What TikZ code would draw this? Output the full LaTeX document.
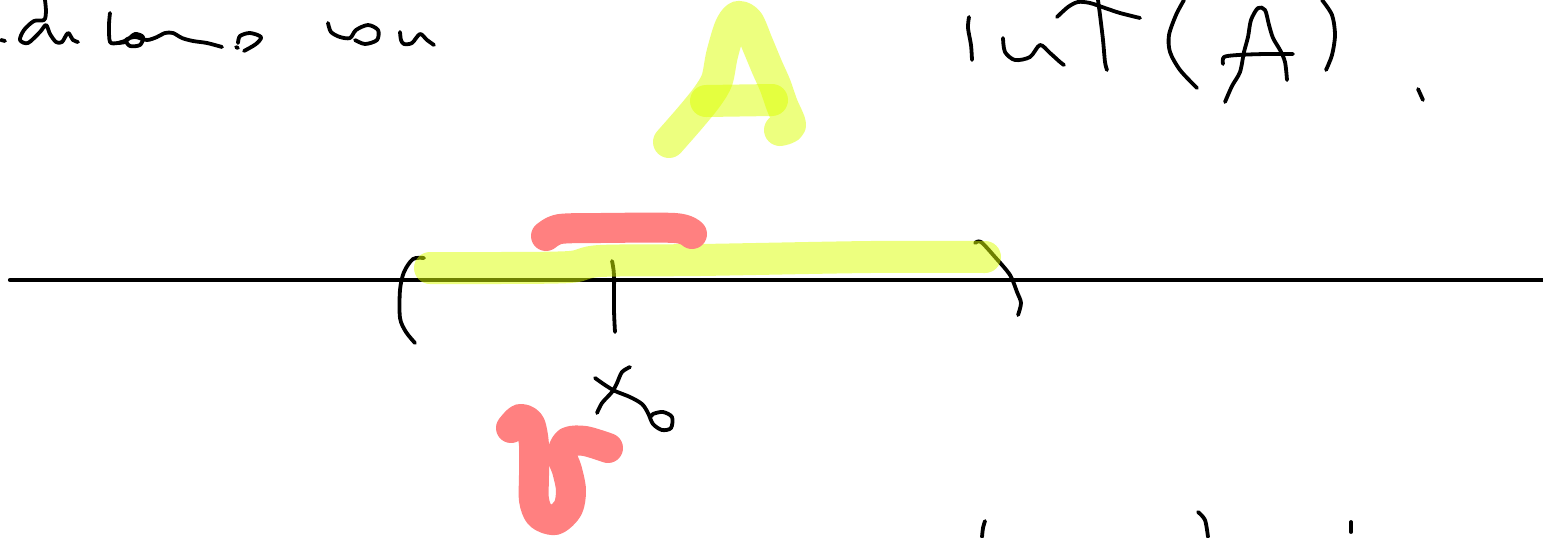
\documentclass[tikz,border=0pt]{standalone}
\definecolor{hly}{RGB}{221,255,0}
\definecolor{hlr}{RGB}{255,128,128}
\tikzset{
  ink/.style={line width=1.9pt, line cap=round, line join=round, draw=black},
  yellowmark/.style={line width=16pt, line cap=round, line join=round, draw=hly, draw opacity=0.5},
  redmark/.style={line width=15pt, line cap=round, line join=round, draw=hlr}
}
\begin{document}
\begin{tikzpicture}[x=0.5pt,y=-0.5pt]
\fill[white] (0,0) rectangle (1543,537);
\useasboundingbox (0,0) rectangle (1543,537);
% top-left handwriting
\draw[ink] (1,40) -- (5,41);
\draw[ink] plot[smooth] coordinates {(45,0) (46,12) (44,20) (34,21) (24,30) (20,40) (28,43) (40,32) (46,25) (50,34) (56,42) (62,42) (68,33) (73,40) (78,42)};
\draw[ink] plot[smooth] coordinates {(110,13) (109,25) (110,42) (118,43) (126,42)};
\draw[ink] plot[smooth] coordinates {(118,43) (127,40) (135,34) (143,37) (140,45) (130,46) (126,40) (135,37) (147,40) (157,37) (165,33) (173,33) (182,38) (193,41) (207,43) (222,47)};
\draw[ink] (236,47) -- (238,48);
\draw[ink] plot[smooth] coordinates {(238,43) (240,36) (250,33) (261,37) (256,44) (244,51)};
\draw[ink] plot[smooth] coordinates {(328,23) (331,32) (340,37) (350,38) (356,30) (368,25) (378,30) (377,40) (365,44) (355,40)};
\draw[ink] plot[smooth] coordinates {(400,32) (401,40) (404,44) (412,43) (420,34) (427,40) (434,45)};
% int(A),
\draw[ink] plot[smooth] coordinates {(969,17) (968,28) (971,45) (972,60)};
\draw[ink] plot[smooth] coordinates {(1003,38) (1005,52) (1015,60) (1030,57) (1040,45) (1050,53) (1060,62) (1064,65)};
\draw[ink] plot[smooth] coordinates {(1057,17) (1068,7) (1078,2) (1090,3) (1105,8) (1120,13) (1140,18)};
\draw[ink] plot[smooth] coordinates {(1098,0) (1100,15) (1103,40) (1105,62) (1107,70)};
\draw[ink] plot[smooth] coordinates {(1184,0) (1176,15) (1169,35) (1170,52) (1180,70) (1197,88)};
\draw[ink] plot[smooth] coordinates {(1225,102) (1232,86) (1240,72) (1244,52) (1248,37) (1251,20) (1258,8) (1265,10) (1269,25) (1273,38) (1280,50) (1285,62) (1287,80)};
\draw[ink] plot[smooth] coordinates {(1223,64) (1224,57) (1238,55) (1265,54) (1293,54)};
\draw[ink] plot[smooth] coordinates {(1322,0) (1332,15) (1335,35) (1332,55) (1326,70)};
\draw[ink] (1418,89) -- (1423,100);
% number line, brackets, tick
\draw[ink, line width=2.1pt] (10,280) -- (1543,280);
\draw[ink] plot[smooth] coordinates {(424,258) (413,259) (404,272) (400,290) (400,318) (406,332) (415,343)};
\draw[ink] plot[smooth] coordinates {(612,261) (614,275) (614,310) (615,332)};
\draw[ink] plot[smooth] coordinates {(975,243) (981,242) (995,257) (1010,275) (1017,292) (1021,303) (1018,315)};
% x_0
\draw[ink] plot[smooth] coordinates {(595,378) (605,385) (615,391) (630,397) (642,404) (648,413) (653,424) (662,430) (671,428) (672,417) (663,412) (653,414) (650,418)};
\draw[ink] plot[smooth] coordinates {(630,367) (622,372) (617,383) (612,392) (602,403) (597,413)};
% bottom right fragments
\draw[ink] plot[smooth] coordinates {(985,521) (983,528) (982,537)};
\draw[ink] plot[smooth] coordinates {(1198,512) (1205,520) (1208,537)};
\draw[ink] (1351,522) -- (1351,532);
% yellow highlights
\draw[yellowmark] plot[smooth] coordinates {(430,268) (500,268) (570,267) (600,261) (700,260) (870,257) (985,257)};
\draw[yellowmark] plot[smooth] coordinates {(669,142) (690,118) (707,97) (717,80) (722,55) (730,28) (738,17) (748,22) (757,43) (767,67) (775,85) (782,105) (790,125) (780,130)};
\draw[yellowmark] (706,101) -- (772,100);
% red highlights
\draw[redmark] plot[smooth] coordinates {(546,236) (560,229) (600,228) (675,228) (692,234)};
\draw[redmark] plot[smooth] coordinates {(511,428) (520,419) (530,424) (534,445) (534,475) (534,500) (540,515) (555,520) (568,508) (571,490) (567,470) (562,455) (568,442) (585,441) (608,448)};
\end{tikzpicture}
\end{document}
